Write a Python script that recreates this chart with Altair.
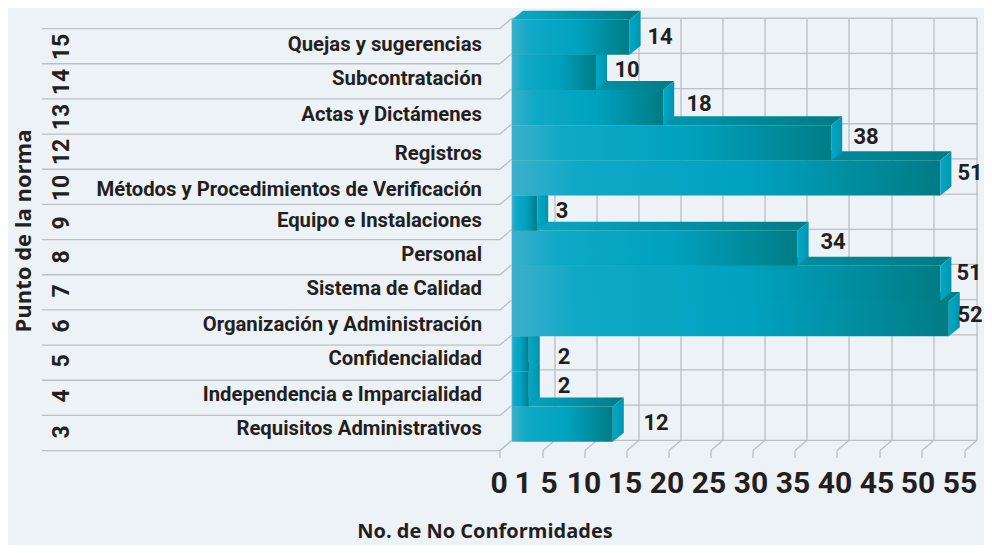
import altair as alt
import pandas as pd

# ---- chart values (bottom row first)
norma = ["3", "4", "5", "6", "7", "8", "9", "10", "12", "13", "14", "15"]
puntos = [
    "Requisitos Administrativos", "Independencia e Imparcialidad\u00a0", "Confidencialidad",
    "Organización y Administración", "Sistema de Calidad", "Personal",
    "Equipo e Instalaciones", "Métodos y Procedimientos de Verificación", "Registros",
    "Actas y Dictámenes", "Subcontratación", "Quejas y sugerencias",
]
conformidades = [12, 2, 2, 52, 51, 34, 3, 51, 38, 18, 10, 14]
axis_labels = ["0", "1", "5", "10", "15", "20", "25", "30", "35", "40", "45", "50", "55"]

# ---- where things sit on the page, as pixels of the reference
grid_px = [512, 555, 597, 639, 681, 723, 765, 807, 849, 892, 934, 977]
axis_label_px = [499, 523, 549, 584, 625, 667, 709, 751, 793, 835, 877, 918, 960]
value_label_xpx = [656, 564, 564, 970, 969, 833, 562, 970, 866, 699, 627, 660]
value_label_ypx = [423, 386, 357, 315, 273, 242, 211, 173, 137, 104, 70, 37]
name_label_ypx = [429, 395, 359, 325, 289, 255, 221, 190, 154, 115, 79, 45]
norma_label_ypx = [432, 396, 361, 326, 291, 257, 223, 188, 152, 117, 82, 47]

PX_X, PX_Y = 8.4, 35.17
X0, Y0 = 512, 440.3
W, H = 976, 537
def ux(px): return (px - X0) / PX_X
def uy(py): return (Y0 - py) / PX_Y

x_scale = alt.Scale(domain=[ux(8), ux(8 + W)], range=[0, W], nice=False, zero=False)
y_scale = alt.Scale(domain=[uy(8 + H), uy(8)], range=[H, 0], nice=False, zero=False)
X = alt.X("x:Q", scale=x_scale, axis=None)
Y = alt.Y("y:Q", scale=y_scale, axis=None)

GRID = "#bcbfc4"
INK = "#231f20"
FONT = "Roboto"
TITLE_FONT = "Open Sans"
DX, DY = 11 / PX_X, 9 / PX_Y          # bar depth
WX, WY = 12 / PX_X, 10.3 / PX_Y       # wall depth
BASE = -0.04

# ---- walls and floor
segs = []
n = len(norma)
for r in range(n + 1):
    segs.append(dict(x=0, x2=ux(grid_px[-1]), y=r, y2=r))
    segs.append(dict(x=0, x2=-WX, y=r, y2=r - WY))
    segs.append(dict(x=-WX, x2=ux(42), y=r - WY, y2=r - WY))
for g in grid_px:
    v = ux(g)
    segs.append(dict(x=v, x2=v, y=0, y2=n))
    segs.append(dict(x=v, x2=v - WX, y=0, y2=-WY))
    segs.append(dict(x=v - WX, x2=v - WX, y=-WY, y2=uy(458)))
walls = alt.Chart(pd.DataFrame(segs)).mark_rule(color=GRID, strokeWidth=1.3).encode(
    x=X, x2="x2:Q", y=Y, y2="y2:Q"
)

front_grad = alt.Gradient(
    gradient="linear", x1=0, x2=1, y1=0, y2=0,
    stops=[
        alt.GradientStop(color="#3cafcb", offset=0),
        alt.GradientStop(color="#0fa9c6", offset=0.15),
        alt.GradientStop(color="#00a2c0", offset=0.55),
        alt.GradientStop(color="#007c85", offset=1),
    ],
)
top_grad = alt.Gradient(
    gradient="linear", x1=0, x2=1, y1=0, y2=0,
    stops=[
        alt.GradientStop(color="#0fa9c6", offset=0),
        alt.GradientStop(color="#0096ae", offset=0.45),
        alt.GradientStop(color="#007c85", offset=1),
    ],
)
side_grad = alt.Gradient(
    gradient="linear", x1=0, x2=1, y1=0, y2=0,
    stops=[
        alt.GradientStop(color="#00a9c8", offset=0),
        alt.GradientStop(color="#0094ae", offset=1),
    ],
)

# ---- bars: painted bottom row first, so each upper bar sits in front
layers = [walls]
for r, v in enumerate(conformidades):
    b, t = r + BASE, r + 1 + BASE
    top = pd.DataFrame({
        "x": [0, DX, v, v + DX],
        "y": [t, t + DY, t + DY, t + DY],
        "y2": [t, t, t, t + DY],
    })
    layers.append(alt.Chart(top).mark_area(color=top_grad, line=False).encode(x=X, y=Y, y2="y2:Q"))
    front = pd.DataFrame({"x": [0], "x2": [v], "y": [b], "y2": [t]})
    layers.append(alt.Chart(front).mark_rect(color=front_grad).encode(x=X, x2="x2:Q", y=Y, y2="y2:Q"))
    side = pd.DataFrame({
        "x": [v, v + DX],
        "y": [t, t + DY],
        "y2": [b, b + DY],
    })
    layers.append(alt.Chart(side).mark_area(color=side_grad).encode(x=X, y=Y, y2="y2:Q"))

# ---- texts
names = pd.DataFrame({"x": [ux(482)] * n, "y": [uy(p) for p in name_label_ypx], "t": puntos})
layers.append(alt.Chart(names).mark_text(
    font=FONT, fontWeight="bold", fontSize=20.3, color=INK, align="right", baseline="middle"
).encode(x=X, y=Y, text="t:N"))

rows = pd.DataFrame({"x": [ux(62)] * n, "y": [uy(p) for p in norma_label_ypx], "t": norma})
layers.append(alt.Chart(rows).mark_text(
    font=FONT, fontWeight="bold", fontSize=23, color=INK, align="center", baseline="middle", angle=270
).encode(x=X, y=Y, text="t:N"))

vals = pd.DataFrame({
    "x": [ux(p) for p in value_label_xpx],
    "y": [uy(p) for p in value_label_ypx],
    "t": conformidades,
})
layers.append(alt.Chart(vals).mark_text(
    font=FONT, fontWeight="bold", fontSize=22, color=INK, align="center", baseline="middle"
).encode(x=X, y=Y, text="t:N"))

ticks = pd.DataFrame({
    "x": [ux(p) for p in axis_label_px],
    "y": [uy(484)] * len(axis_labels),
    "t": axis_labels,
})
layers.append(alt.Chart(ticks).mark_text(
    font=FONT, fontWeight="bold", fontSize=30, color=INK, align="center", baseline="middle"
).encode(x=X, y=Y, text="t:N"))

xtitle = pd.DataFrame({"x": [ux(485)], "y": [uy(532)], "t": ["No. de No Conformidades"]})
layers.append(alt.Chart(xtitle).mark_text(
    font=TITLE_FONT, fontWeight="bold", fontSize=20, color=INK, align="center", baseline="middle"
).encode(x=X, y=Y, text="t:N"))

ytitle = pd.DataFrame({"x": [ux(24)], "y": [uy(231)], "t": ["Punto de la norma"]})
layers.append(alt.Chart(ytitle).mark_text(
    font=TITLE_FONT, fontWeight="bold", fontSize=22, color=INK, align="center", baseline="middle", angle=270
).encode(x=X, y=Y, text="t:N"))

chart = alt.layer(*layers).properties(
    width=W, height=H, background="#edf2f6", padding=0,
    autosize=alt.AutoSizeParams(type="none"),
).configure_view(stroke=None)

chart.save("out.html", embed_options={"renderer": "svg", "actions": False})
